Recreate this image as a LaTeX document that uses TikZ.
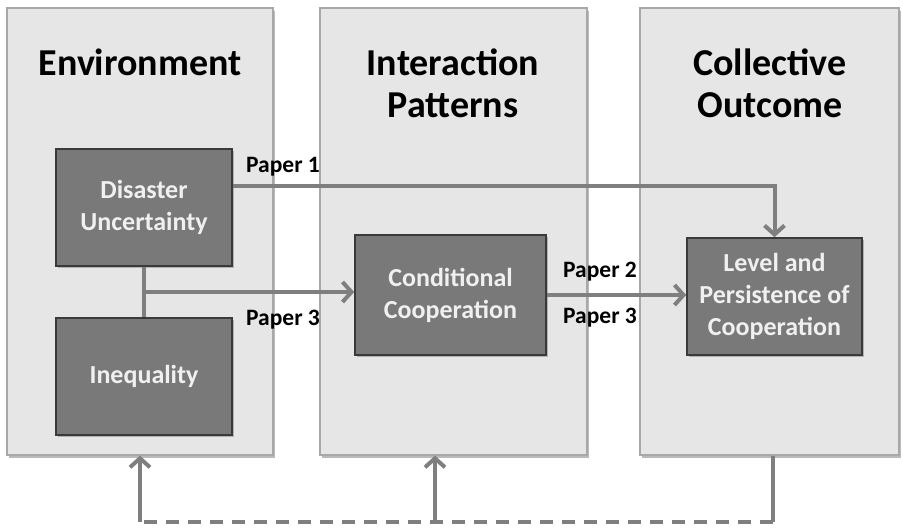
\documentclass[tikz,border=0pt]{standalone}
\usepackage{fontspec}
\setmainfont{Carlito}
\usetikzlibrary{arrows.meta,shadows,calc}
\definecolor{panelfill}{HTML}{E6E6E6}
\definecolor{paneledge}{HTML}{A8A8A8}
\definecolor{boxfill}{HTML}{797979}
\definecolor{boxedge}{HTML}{3A3A3A}
\definecolor{conncol}{HTML}{7F7F7F}
\begin{document}
\begin{tikzpicture}[x=1pt,y=-1pt,
  panel/.style={draw=paneledge,fill=panelfill,line width=1.2pt,
    drop shadow={shadow xshift=2pt,shadow yshift=-3pt,fill=black!45,opacity=0.6},
    inner sep=0pt},
  darkbox/.style={draw=boxedge,fill=boxfill,line width=1.6pt,
    drop shadow={shadow xshift=1.5pt,shadow yshift=-2pt,fill=black!50,opacity=0.5},
    text=white!94!black,font=\fontsize{26}{32}\selectfont\bfseries,align=center,inner sep=0pt},
  title/.style={font=\fontsize{38}{42}\selectfont\bfseries,align=center,text=black},
  lbl/.style={font=\fontsize{23.5}{26}\selectfont\bfseries,text=black},
  conn/.style={draw=conncol,line width=4pt},
  tip/.style={-{Straight Barb[length=9pt,width=20pt]}},
]
\useasboundingbox (0,0) rectangle (903,528);
\fill[white] (0,0) rectangle (903,528);
% panels
\node[panel,minimum width=266pt,minimum height=447pt] (p1) at (140,231.5) {};
\node[panel,minimum width=267pt,minimum height=447pt] (p2) at (453.5,231.5) {};
\node[panel,minimum width=259pt,minimum height=447pt] (p3) at (769.5,231.5) {};
% titles
\node[title] (t1) at (140,62) {Environment};
\node[title] (t2) at (453,83) {Interaction\\Patterns};
\node[title] (t3) at (770,83) {Collective\\Outcome};
% boxes
\node[darkbox,minimum width=176pt,minimum height=117pt] (dis) at (144,207.5) {Disaster\\Uncertainty};
\node[darkbox,minimum width=176pt,minimum height=117pt] (ineq) at (144,376.5) {Inequality};
\node[darkbox,minimum width=191pt,minimum height=120pt] (cond) at (450.5,295) {Conditional\\Cooperation};
\node[darkbox,minimum width=175pt,minimum height=117pt] (lvl) at (774.5,296.5) {Level and\\Persistence of\\Cooperation};
% connectors
\draw[conn,tip] ([yshift=21.5pt]dis.east) -| (lvl.north);
\draw[conn] (dis.south) -- (ineq.north);
\coordinate (j) at ($(dis.south)!0.5!(ineq.north)$);
\draw[conn,tip] (j) -- (j -| cond.west);
\draw[conn,tip] (cond.east) -- (cond.east -| lvl.west);
% labels
\node[lbl] (l1) at (283,167) {Paper 1};
\node[lbl] (l3a) at (283,320) {Paper 3};
\node[lbl] (l2) at (600,272) {Paper 2};
\node[lbl] (l3b) at (600,318) {Paper 3};
% feedback
\coordinate (r) at (773,522);
\coordinate (l) at (140,522);
\coordinate (m) at (435,522);
\draw[conn] (p3.south -| r) -- (r);
\draw[conn,dash pattern=on 13pt off 9pt] (r) -- (l);
\draw[conn,tip] (l) -- (l |- p1.south);
\draw[conn,tip] (m) -- (m |- p2.south);
\end{tikzpicture}
\end{document}
